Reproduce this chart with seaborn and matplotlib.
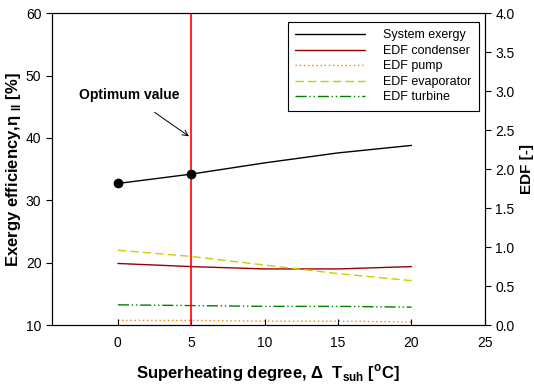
import numpy as np
import pandas as pd
import matplotlib
matplotlib.use("Agg")
import matplotlib.pyplot as plt
from matplotlib.lines import Line2D
import seaborn as sns

# dados
superheat = [0, 5, 10, 15, 20]
system_exergy = [32.7, 34.2, 36.0, 37.6, 38.8]
edf_condenser = [0.79, 0.75, 0.72, 0.72, 0.75]
edf_pump = [0.06, 0.06, 0.05, 0.05, 0.04]
edf_evaporator = [0.96, 0.88, 0.77, 0.66, 0.57]
edf_turbine = [0.26, 0.25, 0.24, 0.24, 0.23]
marker_x = [0, 5]
marker_y = [32.7, 34.2]
optimum_x = 5

sns.set_theme(style="ticks")
plt.rcParams['font.family'] = ['Liberation Sans', 'DejaVu Sans']
plt.rcParams['mathtext.fontset'] = 'custom'
plt.rcParams['mathtext.rm'] = 'Liberation Sans'
plt.rcParams['mathtext.bf'] = 'Liberation Sans:bold'
for k in ['text.color', 'axes.labelcolor', 'xtick.color', 'ytick.color', 'axes.edgecolor']:
    plt.rcParams[k] = 'black'

fig, ax = plt.subplots(figsize=(5.34, 3.87), dpi=100)
fig.subplots_adjust(left=0.097, right=0.908, top=0.966, bottom=0.160)
ax2 = ax.twinx()
# eixo principal por cima (linha vermelha e marcadores sobre as curvas EDF)
ax.set_zorder(ax2.get_zorder() + 1)
ax.patch.set_visible(False)

df = pd.DataFrame({'x': superheat, 'sys': system_exergy, 'cond': edf_condenser,
                   'pump': edf_pump, 'evap': edf_evaporator, 'turb': edf_turbine})

styles = {
    'cond': ('#990000', '-'),
    'pump': ('#FF7F00', (0, (1, 2))),
    'evap': ('#CCCC00', (0, (6, 3))),
    'turb': ('#008000', (0, (8, 2, 1, 2, 1, 2))),
}

for col, (c, ls) in styles.items():
    sns.lineplot(data=df, x='x', y=col, ax=ax2, color=c, lw=1.0, linestyle=ls)

ax.axvline(optimum_x, color='#FF0000', lw=1.2, zorder=1)
sns.lineplot(data=df, x='x', y='sys', ax=ax, color='black', lw=1.0, zorder=3)
ax.plot(marker_x, marker_y, 'o', color='black', ms=6, zorder=4)

ax.set_xlim(-4.5, 25)
ax.set_ylim(10, 60)
ax2.set_ylim(0, 4.0)
ax.set_xticks([0, 5, 10, 15, 20, 25])
ax.set_yticks([10, 20, 30, 40, 50, 60])
edf_ticks = np.arange(0, 4.01, 0.5)
ax2.set_yticks(edf_ticks)
ax2.set_yticklabels([f'{v:.1f}' for v in edf_ticks])

ax.tick_params(axis='x', direction='in', labelsize=10, length=4, width=0.8, pad=8)
ax.tick_params(axis='y', direction='out', labelsize=10, length=4, width=0.8)
ax2.tick_params(axis='y', direction='out', labelsize=10, length=4, width=0.8)
for a in (ax, ax2):
    for s in a.spines.values():
        s.set_linewidth(0.8)
        s.set_color('black')

ax.set_xlabel(r'Superheating degree, Δ  T$_{\mathbf{suh}}$ [$^{\mathbf{o}}$C]',
              fontsize=12, fontweight='bold', labelpad=9)
ax.set_ylabel(r'Exergy efficiency,η $_{\mathbf{II}}$ [%]', fontsize=12, fontweight='bold',
              labelpad=2)
ax2.set_ylabel('EDF [-]', fontsize=11, fontweight='bold')

ax.annotate('Optimum value', xy=(optimum_x, 40), xytext=(0.8, 46.9),
            fontsize=10, fontweight='bold', ha='center', va='center',
            arrowprops=dict(arrowstyle='->', color='black', lw=0.7, shrinkA=9))

handles = [Line2D([], [], color='black', lw=1.0)]
for col, (c, ls) in styles.items():
    handles.append(Line2D([], [], color=c, lw=1.0, linestyle=ls))
labels = ['System exergy', 'EDF condenser', 'EDF pump', 'EDF evaporator', 'EDF turbine']
leg = ax.legend(handles, labels, loc='upper right', bbox_to_anchor=(0.986, 0.972),
                borderaxespad=0, fontsize=9, frameon=True, fancybox=False,
                handlelength=5.6, handletextpad=1.4, labelspacing=0.28, borderpad=0.6)
leg.get_frame().set_edgecolor('black')
leg.get_frame().set_linewidth(0.8)
leg.get_frame().set_alpha(1)

fig.savefig('out.png', dpi=100)
